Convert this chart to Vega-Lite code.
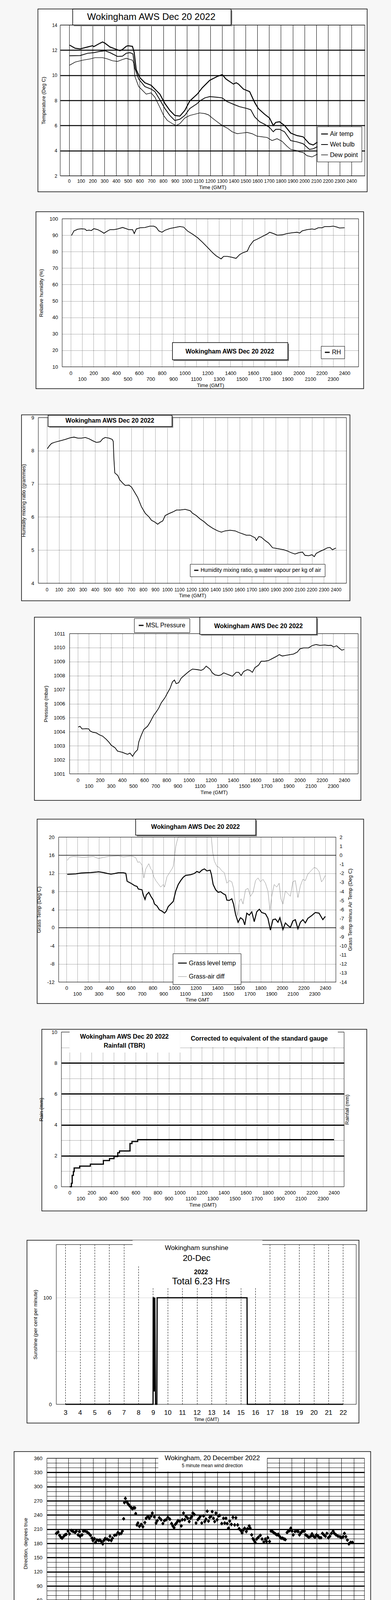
{
"$schema":"https://vega.github.io/schema/vega-lite/v6.json",
"background":"#f7f7f7",
"padding":0,
"spacing":0,
"resolve":{"scale":{"color":"independent","strokeWidth":"independent","shape":"independent"},"legend":{"color":"independent","strokeWidth":"independent","shape":"independent"}},
"config":{
 "font":"Liberation Sans",
 "axis":{"domain":false,"ticks":false,"labelColor":"black","titleColor":"black","titleFontWeight":"normal","labelFontSize":13,"titleFontSize":13,"gridColor":"black","gridOpacity":1,"labelOverlap":false,"labelFlush":false,"labelFont":"Liberation Sans","titleFont":"Liberation Sans"},
 "legend":{"labelColor":"black","labelFont":"Liberation Sans"},
 "concat":{"spacing":0}
},
"datasets":{
"temp":[
{"t":4,"s":"Air temp","v":12.4},{"t":51,"s":"Air temp","v":12.15},{"t":93,"s":"Air temp","v":12.1},{"t":157,"s":"Air temp","v":12.25},{"t":199,"s":"Air temp","v":12.35},{"t":210,"s":"Air temp","v":12.28},{"t":252,"s":"Air temp","v":12.5},{"t":284,"s":"Air temp","v":12.65},{"t":305,"s":"Air temp","v":12.55},{"t":347,"s":"Air temp","v":12.25},{"t":390,"s":"Air temp","v":12.1},{"t":432,"s":"Air temp","v":11.95},{"t":453,"s":"Air temp","v":12.05},{"t":485,"s":"Air temp","v":12.3},{"t":500,"s":"Air temp","v":12.35},{"t":538,"s":"Air temp","v":12.3},{"t":553,"s":"Air temp","v":11.8},{"t":570,"s":"Air temp","v":10.45},{"t":602,"s":"Air temp","v":9.8},{"t":644,"s":"Air temp","v":9.4},{"t":697,"s":"Air temp","v":9.2},{"t":729,"s":"Air temp","v":8.9},{"t":771,"s":"Air temp","v":8.5},{"t":814,"s":"Air temp","v":7.75},{"t":856,"s":"Air temp","v":7.2},{"t":898,"s":"Air temp","v":6.8},{"t":941,"s":"Air temp","v":6.75},{"t":983,"s":"Air temp","v":7.2},{"t":1025,"s":"Air temp","v":7.95},{"t":1089,"s":"Air temp","v":8.5},{"t":1131,"s":"Air temp","v":9.0},{"t":1195,"s":"Air temp","v":9.6},{"t":1258,"s":"Air temp","v":9.9},{"t":1301,"s":"Air temp","v":10.05},{"t":1333,"s":"Air temp","v":9.7},{"t":1396,"s":"Air temp","v":9.3},{"t":1420,"s":"Air temp","v":9.4},{"t":1439,"s":"Air temp","v":9.3},{"t":1481,"s":"Air temp","v":8.9},{"t":1534,"s":"Air temp","v":8.7},{"t":1576,"s":"Air temp","v":7.85},{"t":1608,"s":"Air temp","v":7.35},{"t":1661,"s":"Air temp","v":6.9},{"t":1703,"s":"Air temp","v":6.6},{"t":1735,"s":"Air temp","v":6.0},{"t":1756,"s":"Air temp","v":6.25},{"t":1788,"s":"Air temp","v":6.3},{"t":1831,"s":"Air temp","v":6.0},{"t":1883,"s":"Air temp","v":5.4},{"t":1936,"s":"Air temp","v":5.2},{"t":1989,"s":"Air temp","v":5.1},{"t":2042,"s":"Air temp","v":4.55},{"t":2074,"s":"Air temp","v":4.45},{"t":2106,"s":"Air temp","v":4.65},{"t":2200,"s":"Air temp","v":4.6},{"t":2300,"s":"Air temp","v":4.5},{"t":2356,"s":"Air temp","v":4.4},
{"t":4,"s":"Wet bulb","v":11.55},{"t":93,"s":"Wet bulb","v":11.57},{"t":157,"s":"Wet bulb","v":11.75},{"t":210,"s":"Wet bulb","v":11.8},{"t":263,"s":"Wet bulb","v":11.9},{"t":305,"s":"Wet bulb","v":11.95},{"t":347,"s":"Wet bulb","v":11.8},{"t":411,"s":"Wet bulb","v":11.5},{"t":453,"s":"Wet bulb","v":11.52},{"t":485,"s":"Wet bulb","v":11.75},{"t":517,"s":"Wet bulb","v":11.8},{"t":542,"s":"Wet bulb","v":11.7},{"t":559,"s":"Wet bulb","v":10.55},{"t":591,"s":"Wet bulb","v":9.7},{"t":644,"s":"Wet bulb","v":9.1},{"t":697,"s":"Wet bulb","v":8.9},{"t":729,"s":"Wet bulb","v":8.7},{"t":771,"s":"Wet bulb","v":8.05},{"t":814,"s":"Wet bulb","v":7.35},{"t":856,"s":"Wet bulb","v":6.8},{"t":898,"s":"Wet bulb","v":6.4},{"t":941,"s":"Wet bulb","v":6.5},{"t":983,"s":"Wet bulb","v":6.8},{"t":1025,"s":"Wet bulb","v":7.35},{"t":1089,"s":"Wet bulb","v":7.75},{"t":1110,"s":"Wet bulb","v":7.95},{"t":1153,"s":"Wet bulb","v":8.2},{"t":1195,"s":"Wet bulb","v":8.3},{"t":1258,"s":"Wet bulb","v":8.25},{"t":1301,"s":"Wet bulb","v":8.2},{"t":1343,"s":"Wet bulb","v":7.9},{"t":1407,"s":"Wet bulb","v":7.65},{"t":1449,"s":"Wet bulb","v":7.5},{"t":1513,"s":"Wet bulb","v":7.35},{"t":1544,"s":"Wet bulb","v":7.25},{"t":1576,"s":"Wet bulb","v":6.7},{"t":1619,"s":"Wet bulb","v":6.3},{"t":1661,"s":"Wet bulb","v":6.1},{"t":1703,"s":"Wet bulb","v":5.85},{"t":1735,"s":"Wet bulb","v":5.5},{"t":1756,"s":"Wet bulb","v":5.7},{"t":1788,"s":"Wet bulb","v":5.7},{"t":1831,"s":"Wet bulb","v":5.5},{"t":1883,"s":"Wet bulb","v":4.8},{"t":1936,"s":"Wet bulb","v":4.7},{"t":1989,"s":"Wet bulb","v":4.55},{"t":2042,"s":"Wet bulb","v":4.1},{"t":2074,"s":"Wet bulb","v":4.15},{"t":2106,"s":"Wet bulb","v":4.3},{"t":2200,"s":"Wet bulb","v":4.2},{"t":2300,"s":"Wet bulb","v":4.1},{"t":2356,"s":"Wet bulb","v":4.0},
{"t":4,"s":"Dew point","v":10.8},{"t":51,"s":"Dew point","v":11.05},{"t":114,"s":"Dew point","v":11.2},{"t":178,"s":"Dew point","v":11.3},{"t":220,"s":"Dew point","v":11.4},{"t":284,"s":"Dew point","v":11.4},{"t":326,"s":"Dew point","v":11.3},{"t":369,"s":"Dew point","v":11.15},{"t":411,"s":"Dew point","v":11.1},{"t":453,"s":"Dew point","v":11.25},{"t":485,"s":"Dew point","v":11.35},{"t":538,"s":"Dew point","v":11.2},{"t":549,"s":"Dew point","v":10.95},{"t":559,"s":"Dew point","v":9.9},{"t":591,"s":"Dew point","v":9.1},{"t":623,"s":"Dew point","v":8.8},{"t":655,"s":"Dew point","v":8.5},{"t":697,"s":"Dew point","v":8.6},{"t":729,"s":"Dew point","v":8.25},{"t":771,"s":"Dew point","v":7.45},{"t":803,"s":"Dew point","v":6.8},{"t":835,"s":"Dew point","v":6.4},{"t":877,"s":"Dew point","v":6.15},{"t":909,"s":"Dew point","v":6.0},{"t":941,"s":"Dew point","v":6.15},{"t":983,"s":"Dew point","v":6.6},{"t":1025,"s":"Dew point","v":6.8},{"t":1068,"s":"Dew point","v":6.9},{"t":1110,"s":"Dew point","v":7.0},{"t":1153,"s":"Dew point","v":6.95},{"t":1184,"s":"Dew point","v":6.85},{"t":1216,"s":"Dew point","v":6.6},{"t":1258,"s":"Dew point","v":6.3},{"t":1301,"s":"Dew point","v":6.0},{"t":1343,"s":"Dew point","v":5.8},{"t":1386,"s":"Dew point","v":5.5},{"t":1428,"s":"Dew point","v":5.35},{"t":1470,"s":"Dew point","v":5.4},{"t":1513,"s":"Dew point","v":5.45},{"t":1555,"s":"Dew point","v":5.35},{"t":1597,"s":"Dew point","v":5.15},{"t":1640,"s":"Dew point","v":5.1},{"t":1682,"s":"Dew point","v":5.05},{"t":1725,"s":"Dew point","v":4.8},{"t":1767,"s":"Dew point","v":4.95},{"t":1809,"s":"Dew point","v":4.75},{"t":1852,"s":"Dew point","v":4.35},{"t":1883,"s":"Dew point","v":4.1},{"t":1936,"s":"Dew point","v":4.0},{"t":1958,"s":"Dew point","v":3.9},{"t":1989,"s":"Dew point","v":3.85},{"t":2021,"s":"Dew point","v":3.6},{"t":2064,"s":"Dew point","v":3.5},{"t":2106,"s":"Dew point","v":3.7},{"t":2200,"s":"Dew point","v":3.6},{"t":2300,"s":"Dew point","v":3.5},{"t":2356,"s":"Dew point","v":3.4}
],
"rh":[{"t":7,"v":89.8},{"t":28,"v":92.6},{"t":61,"v":93.6},{"t":94,"v":93.9},{"t":127,"v":93.7},{"t":138,"v":92.8},{"t":160,"v":93.1},{"t":181,"v":92.8},{"t":203,"v":94.0},{"t":236,"v":93.4},{"t":269,"v":92.2},{"t":291,"v":91.2},{"t":323,"v":92.6},{"t":345,"v":93.4},{"t":378,"v":93.4},{"t":411,"v":93.8},{"t":455,"v":94.7},{"t":476,"v":94.2},{"t":509,"v":93.4},{"t":542,"v":93.4},{"t":557,"v":91.0},{"t":575,"v":93.8},{"t":608,"v":94.5},{"t":651,"v":94.7},{"t":695,"v":95.5},{"t":728,"v":95.5},{"t":750,"v":94.7},{"t":772,"v":92.6},{"t":800,"v":91.8},{"t":826,"v":93.0},{"t":870,"v":94.1},{"t":914,"v":94.7},{"t":957,"v":95.3},{"t":990,"v":94.9},{"t":1023,"v":92.6},{"t":1067,"v":90.7},{"t":1110,"v":88.6},{"t":1154,"v":85.8},{"t":1198,"v":82.7},{"t":1242,"v":79.5},{"t":1274,"v":77.5},{"t":1318,"v":75.6},{"t":1340,"v":77.1},{"t":1373,"v":77.1},{"t":1406,"v":76.7},{"t":1449,"v":75.9},{"t":1482,"v":78.3},{"t":1515,"v":79.5},{"t":1548,"v":80.3},{"t":1569,"v":83.5},{"t":1602,"v":86.6},{"t":1635,"v":87.6},{"t":1679,"v":89.2},{"t":1722,"v":90.7},{"t":1744,"v":91.8},{"t":1777,"v":91.0},{"t":1810,"v":90.0},{"t":1853,"v":90.2},{"t":1897,"v":91.0},{"t":1941,"v":91.5},{"t":1985,"v":91.8},{"t":2007,"v":91.3},{"t":2028,"v":92.6},{"t":2072,"v":93.4},{"t":2116,"v":93.8},{"t":2138,"v":93.5},{"t":2170,"v":94.5},{"t":2203,"v":94.5},{"t":2225,"v":95.2},{"t":2269,"v":95.2},{"t":2302,"v":95.5},{"t":2334,"v":94.9},{"t":2356,"v":94.4},{"t":2400,"v":94.5}],
"mix":[{"t":4,"v":8.06},{"t":19,"v":8.14},{"t":39,"v":8.22},{"t":70,"v":8.26},{"t":112,"v":8.3},{"t":153,"v":8.34},{"t":195,"v":8.39},{"t":226,"v":8.41},{"t":257,"v":8.38},{"t":288,"v":8.38},{"t":319,"v":8.4},{"t":350,"v":8.36},{"t":381,"v":8.3},{"t":412,"v":8.25},{"t":443,"v":8.27},{"t":464,"v":8.36},{"t":485,"v":8.4},{"t":516,"v":8.38},{"t":543,"v":8.34},{"t":551,"v":8.28},{"t":557,"v":7.73},{"t":564,"v":7.33},{"t":589,"v":7.25},{"t":605,"v":7.12},{"t":630,"v":7.02},{"t":651,"v":6.95},{"t":682,"v":6.96},{"t":703,"v":6.9},{"t":723,"v":6.78},{"t":754,"v":6.59},{"t":785,"v":6.31},{"t":817,"v":6.11},{"t":848,"v":6.0},{"t":868,"v":5.9},{"t":899,"v":5.84},{"t":920,"v":5.78},{"t":941,"v":5.84},{"t":962,"v":5.88},{"t":982,"v":6.04},{"t":1013,"v":6.1},{"t":1045,"v":6.15},{"t":1076,"v":6.21},{"t":1107,"v":6.21},{"t":1148,"v":6.23},{"t":1190,"v":6.19},{"t":1210,"v":6.11},{"t":1241,"v":6.04},{"t":1272,"v":5.94},{"t":1304,"v":5.86},{"t":1335,"v":5.76},{"t":1376,"v":5.66},{"t":1418,"v":5.58},{"t":1449,"v":5.54},{"t":1480,"v":5.58},{"t":1521,"v":5.6},{"t":1563,"v":5.58},{"t":1594,"v":5.53},{"t":1625,"v":5.49},{"t":1656,"v":5.45},{"t":1687,"v":5.45},{"t":1708,"v":5.41},{"t":1729,"v":5.37},{"t":1739,"v":5.29},{"t":1760,"v":5.41},{"t":1780,"v":5.39},{"t":1811,"v":5.29},{"t":1842,"v":5.21},{"t":1874,"v":5.07},{"t":1905,"v":5.05},{"t":1936,"v":5.03},{"t":1967,"v":5.01},{"t":1998,"v":4.97},{"t":2029,"v":4.92},{"t":2060,"v":4.88},{"t":2091,"v":4.92},{"t":2122,"v":4.94},{"t":2143,"v":4.84},{"t":2174,"v":4.83},{"t":2201,"v":4.86},{"t":2220,"v":4.8},{"t":2236,"v":4.9},{"t":2267,"v":4.96},{"t":2298,"v":5.01},{"t":2330,"v":5.07},{"t":2350,"v":5.08},{"t":2371,"v":5.01},{"t":2392,"v":5.05},{"t":2400,"v":5.06}],
"pres":[{"t":4,"v":1004.34},{"t":20,"v":1004.39},{"t":38,"v":1004.2},{"t":76,"v":1004.22},{"t":99,"v":1004.2},{"t":110,"v":1004.06},{"t":133,"v":1003.97},{"t":166,"v":1003.92},{"t":200,"v":1003.76},{"t":223,"v":1003.69},{"t":256,"v":1003.46},{"t":283,"v":1003.23},{"t":301,"v":1003.04},{"t":335,"v":1002.86},{"t":358,"v":1002.62},{"t":380,"v":1002.58},{"t":403,"v":1002.53},{"t":425,"v":1002.46},{"t":448,"v":1002.39},{"t":470,"v":1002.48},{"t":493,"v":1002.25},{"t":515,"v":1002.53},{"t":538,"v":1002.72},{"t":549,"v":1003.27},{"t":571,"v":1003.74},{"t":594,"v":1004.16},{"t":628,"v":1004.39},{"t":650,"v":1004.67},{"t":684,"v":1005.18},{"t":706,"v":1005.41},{"t":729,"v":1005.69},{"t":751,"v":1006.06},{"t":785,"v":1006.43},{"t":807,"v":1006.76},{"t":830,"v":1007.08},{"t":852,"v":1007.55},{"t":870,"v":1007.69},{"t":886,"v":1007.43},{"t":909,"v":1007.5},{"t":931,"v":1007.82},{"t":965,"v":1008.06},{"t":999,"v":1008.29},{"t":1032,"v":1008.47},{"t":1077,"v":1008.43},{"t":1111,"v":1008.38},{"t":1134,"v":1008.47},{"t":1156,"v":1008.68},{"t":1190,"v":1008.47},{"t":1212,"v":1008.2},{"t":1235,"v":1008.06},{"t":1269,"v":1008.01},{"t":1291,"v":1008.06},{"t":1314,"v":1008.2},{"t":1347,"v":1008.1},{"t":1370,"v":1008.03},{"t":1392,"v":1007.96},{"t":1426,"v":1008.24},{"t":1449,"v":1008.24},{"t":1471,"v":1008.01},{"t":1493,"v":1008.29},{"t":1527,"v":1008.43},{"t":1550,"v":1008.38},{"t":1572,"v":1008.24},{"t":1595,"v":1008.57},{"t":1628,"v":1008.75},{"t":1651,"v":1009.03},{"t":1685,"v":1009.03},{"t":1718,"v":1009.08},{"t":1752,"v":1009.22},{"t":1786,"v":1009.36},{"t":1815,"v":1009.5},{"t":1842,"v":1009.4},{"t":1876,"v":1009.45},{"t":1910,"v":1009.5},{"t":1943,"v":1009.54},{"t":1977,"v":1009.68},{"t":2000,"v":1009.91},{"t":2033,"v":1009.98},{"t":2078,"v":1009.98},{"t":2112,"v":1010.15},{"t":2146,"v":1010.22},{"t":2180,"v":1010.16},{"t":2224,"v":1010.19},{"t":2258,"v":1010.15},{"t":2281,"v":1010.17},{"t":2303,"v":1010.05},{"t":2332,"v":1010.13},{"t":2354,"v":1009.96},{"t":2377,"v":1009.82},{"t":2400,"v":1009.87}],
"grass":[{"t":7,"v":11.78},{"t":42,"v":11.83},{"t":88,"v":11.89},{"t":134,"v":12.06},{"t":180,"v":12.12},{"t":227,"v":12.18},{"t":273,"v":12.27},{"t":296,"v":12.35},{"t":342,"v":12.18},{"t":377,"v":11.98},{"t":412,"v":11.83},{"t":446,"v":11.95},{"t":481,"v":12.12},{"t":527,"v":12.12},{"t":550,"v":12.0},{"t":562,"v":10.25},{"t":597,"v":9.82},{"t":631,"v":9.3},{"t":654,"v":9.1},{"t":666,"v":8.53},{"t":700,"v":8.38},{"t":712,"v":7.23},{"t":728,"v":6.23},{"t":740,"v":7.23},{"t":763,"v":7.81},{"t":782,"v":6.95},{"t":805,"v":6.08},{"t":816,"v":5.22},{"t":839,"v":4.79},{"t":862,"v":3.93},{"t":886,"v":3.64},{"t":909,"v":3.21},{"t":925,"v":3.64},{"t":943,"v":4.65},{"t":966,"v":5.22},{"t":990,"v":5.8},{"t":1013,"v":8.1},{"t":1036,"v":9.53},{"t":1059,"v":10.4},{"t":1082,"v":11.12},{"t":1105,"v":11.55},{"t":1151,"v":11.69},{"t":1186,"v":11.98},{"t":1209,"v":12.41},{"t":1232,"v":12.18},{"t":1255,"v":12.7},{"t":1279,"v":12.98},{"t":1302,"v":12.55},{"t":1332,"v":12.7},{"t":1343,"v":11.83},{"t":1360,"v":9.53},{"t":1383,"v":8.38},{"t":1406,"v":7.81},{"t":1429,"v":7.95},{"t":1452,"v":7.52},{"t":1475,"v":7.23},{"t":1487,"v":6.08},{"t":1510,"v":6.03},{"t":1533,"v":6.37},{"t":1549,"v":5.22},{"t":1568,"v":2.92},{"t":1591,"v":1.2},{"t":1614,"v":2.2},{"t":1637,"v":1.77},{"t":1653,"v":0.62},{"t":1672,"v":3.21},{"t":1695,"v":2.78},{"t":1718,"v":3.5},{"t":1741,"v":1.34},{"t":1764,"v":3.5},{"t":1788,"v":4.07},{"t":1810,"v":3.35},{"t":1845,"v":3.07},{"t":1868,"v":2.06},{"t":1891,"v":-0.53},{"t":1914,"v":1.77},{"t":1938,"v":1.91},{"t":1961,"v":1.2},{"t":1979,"v":2.2},{"t":2007,"v":-0.39},{"t":2030,"v":1.05},{"t":2053,"v":0.48},{"t":2076,"v":0.05},{"t":2099,"v":1.48},{"t":2122,"v":1.77},{"t":2146,"v":-0.24},{"t":2169,"v":1.2},{"t":2192,"v":1.77},{"t":2215,"v":1.05},{"t":2238,"v":2.06},{"t":2272,"v":2.63},{"t":2307,"v":3.35},{"t":2342,"v":3.21},{"t":2377,"v":1.77},{"t":2400,"v":2.49}],
"gdiff":[{"t":7,"v":-0.57},{"t":30,"v":-0.21},{"t":65,"v":-0.14},{"t":111,"v":-0.19},{"t":157,"v":-0.24},{"t":203,"v":-0.19},{"t":250,"v":-0.14},{"t":296,"v":-0.36},{"t":342,"v":-0.24},{"t":388,"v":-0.14},{"t":435,"v":-0.1},{"t":481,"v":-0.07},{"t":527,"v":-0.19},{"t":562,"v":-0.14},{"t":597,"v":-0.1},{"t":620,"v":-0.14},{"t":643,"v":-0.29},{"t":661,"v":-0.79},{"t":677,"v":-0.72},{"t":700,"v":-1.08},{"t":717,"v":-2.51},{"t":735,"v":-1.51},{"t":763,"v":-0.93},{"t":782,"v":-1.51},{"t":793,"v":-1.65},{"t":809,"v":-2.37},{"t":828,"v":-2.8},{"t":851,"v":-3.16},{"t":874,"v":-3.52},{"t":897,"v":-3.23},{"t":909,"v":-3.52},{"t":932,"v":-2.37},{"t":955,"v":-1.94},{"t":978,"v":-1.51},{"t":990,"v":-1.22},{"t":1001,"v":-0.21},{"t":1013,"v":0.94},{"t":1024,"v":1.51},{"t":1036,"v":2.09},{"t":1100,"v":3},{"t":1200,"v":3},{"t":1300,"v":3},{"t":1343,"v":2.0},{"t":1355,"v":0.36},{"t":1371,"v":-0.65},{"t":1394,"v":-1.22},{"t":1417,"v":-1.36},{"t":1440,"v":-1.72},{"t":1464,"v":-1.94},{"t":1487,"v":-3.09},{"t":1510,"v":-2.8},{"t":1533,"v":-2.94},{"t":1549,"v":-3.66},{"t":1568,"v":-5.68},{"t":1586,"v":-6.68},{"t":1602,"v":-5.1},{"t":1619,"v":-4.81},{"t":1637,"v":-5.39},{"t":1660,"v":-3.81},{"t":1683,"v":-3.66},{"t":1706,"v":-4.53},{"t":1730,"v":-4.1},{"t":1753,"v":-2.8},{"t":1776,"v":-2.51},{"t":1799,"v":-2.94},{"t":1822,"v":-2.66},{"t":1845,"v":-3.09},{"t":1868,"v":-3.95},{"t":1887,"v":-6.11},{"t":1903,"v":-4.53},{"t":1926,"v":-3.23},{"t":1949,"v":-3.52},{"t":1972,"v":-3.09},{"t":1988,"v":-4.81},{"t":2007,"v":-5.39},{"t":2030,"v":-3.95},{"t":2053,"v":-4.24},{"t":2076,"v":-4.53},{"t":2099,"v":-2.94},{"t":2122,"v":-2.8},{"t":2146,"v":-4.67},{"t":2169,"v":-3.38},{"t":2192,"v":-2.66},{"t":2215,"v":-2.8},{"t":2238,"v":-2.08},{"t":2261,"v":-1.8},{"t":2296,"v":-1.36},{"t":2319,"v":-1.44},{"t":2342,"v":-1.8},{"t":2365,"v":-2.94},{"t":2382,"v":-2.66},{"t":2400,"v":-2.23}],
"rain":[{"t":0,"v":0},{"t":7,"v":0},{"t":16,"v":0.22},{"t":23,"v":0.73},{"t":34,"v":0.98},{"t":41,"v":1.21},{"t":91,"v":1.33},{"t":188,"v":1.46},{"t":306,"v":1.69},{"t":362,"v":1.82},{"t":403,"v":1.95},{"t":437,"v":2.2},{"t":453,"v":2.31},{"t":548,"v":2.79},{"t":566,"v":2.92},{"t":618,"v":3.04},{"t":2400,"v":3.04}],
"sun":[{"h":3,"v":0},{"h":9.0,"v":0},{"h":9.01,"v":100},{"h":9.06,"v":100},{"h":9.08,"v":12},{"h":9.12,"v":100},{"h":9.17,"v":0},{"h":9.26,"v":0},{"h":9.28,"v":100},{"h":15.43,"v":100},{"h":15.45,"v":0},{"h":22,"v":0}],
"wdir":[{"h":0.04,"d":201},{"h":0.18,"d":204},{"h":0.3,"d":197},{"h":0.4,"d":193},{"h":0.5,"d":191},{"h":0.64,"d":195},{"h":0.74,"d":198},{"h":0.84,"d":199},{"h":0.98,"d":206},{"h":1.1,"d":200},{"h":1.25,"d":207},{"h":1.39,"d":205},{"h":1.55,"d":203},{"h":1.65,"d":206},{"h":1.79,"d":198},{"h":1.89,"d":205},{"h":1.95,"d":195},{"h":2.11,"d":198},{"h":2.21,"d":206},{"h":2.35,"d":206},{"h":2.51,"d":204},{"h":2.65,"d":201},{"h":2.79,"d":197},{"h":2.91,"d":191},{"h":2.99,"d":186},{"h":3.11,"d":190},{"h":3.19,"d":182},{"h":3.31,"d":187},{"h":3.45,"d":186},{"h":3.55,"d":187},{"h":3.66,"d":184},{"h":3.78,"d":179},{"h":3.86,"d":186},{"h":3.96,"d":190},{"h":4.12,"d":189},{"h":4.26,"d":187},{"h":4.36,"d":195},{"h":4.46,"d":186},{"h":4.56,"d":191},{"h":4.72,"d":197},{"h":4.86,"d":198},{"h":5.0,"d":203},{"h":5.12,"d":200},{"h":5.26,"d":201},{"h":5.36,"d":206},{"h":5.46,"d":232},{"h":5.52,"d":266},{"h":5.6,"d":275},{"h":5.72,"d":268},{"h":5.8,"d":264},{"h":5.92,"d":260},{"h":6.06,"d":256},{"h":6.16,"d":253},{"h":6.26,"d":255},{"h":6.36,"d":255},{"h":6.43,"d":243},{"h":6.53,"d":219},{"h":6.61,"d":223},{"h":6.73,"d":216},{"h":6.87,"d":220},{"h":7.01,"d":215},{"h":7.17,"d":224},{"h":7.27,"d":233},{"h":7.41,"d":237},{"h":7.53,"d":233},{"h":7.67,"d":238},{"h":7.77,"d":244},{"h":7.93,"d":236},{"h":8.07,"d":223},{"h":8.17,"d":228},{"h":8.33,"d":234},{"h":8.48,"d":230},{"h":8.62,"d":222},{"h":8.74,"d":228},{"h":8.88,"d":230},{"h":9.02,"d":235},{"h":9.18,"d":231},{"h":9.32,"d":222},{"h":9.42,"d":217},{"h":9.52,"d":213},{"h":9.62,"d":220},{"h":9.74,"d":224},{"h":9.84,"d":228},{"h":9.98,"d":227},{"h":10.1,"d":217},{"h":10.18,"d":230},{"h":10.28,"d":244},{"h":10.38,"d":230},{"h":10.48,"d":237},{"h":10.62,"d":233},{"h":10.74,"d":226},{"h":10.85,"d":233},{"h":10.95,"d":237},{"h":11.03,"d":244},{"h":11.15,"d":241},{"h":11.29,"d":223},{"h":11.43,"d":230},{"h":11.53,"d":233},{"h":11.63,"d":237},{"h":11.75,"d":223},{"h":11.89,"d":238},{"h":11.99,"d":226},{"h":12.09,"d":231},{"h":12.19,"d":248},{"h":12.29,"d":227},{"h":12.39,"d":235},{"h":12.49,"d":237},{"h":12.59,"d":247},{"h":12.69,"d":233},{"h":12.79,"d":226},{"h":12.89,"d":244},{"h":12.99,"d":230},{"h":13.09,"d":238},{"h":13.2,"d":239},{"h":13.36,"d":222},{"h":13.5,"d":233},{"h":13.6,"d":223},{"h":13.7,"d":233},{"h":13.8,"d":222},{"h":13.9,"d":212},{"h":14.0,"d":227},{"h":14.14,"d":220},{"h":14.26,"d":235},{"h":14.4,"d":219},{"h":14.5,"d":234},{"h":14.64,"d":219},{"h":14.76,"d":211},{"h":14.9,"d":207},{"h":15.0,"d":202},{"h":15.1,"d":208},{"h":15.2,"d":212},{"h":15.34,"d":205},{"h":15.44,"d":211},{"h":15.57,"d":217},{"h":15.65,"d":212},{"h":15.77,"d":198},{"h":15.87,"d":190},{"h":15.97,"d":186},{"h":16.05,"d":182},{"h":16.17,"d":189},{"h":16.31,"d":193},{"h":16.47,"d":197},{"h":16.61,"d":189},{"h":16.75,"d":183},{"h":16.87,"d":189},{"h":16.97,"d":184},{"h":17.07,"d":192},{"h":17.21,"d":184},{"h":17.33,"d":206},{"h":17.45,"d":205},{"h":17.57,"d":202},{"h":17.69,"d":200},{"h":17.81,"d":198},{"h":17.91,"d":199},{"h":18.01,"d":195},{"h":18.14,"d":191},{"h":18.26,"d":191},{"h":18.38,"d":189},{"h":18.48,"d":188},{"h":18.62,"d":203},{"h":18.72,"d":206},{"h":18.82,"d":207},{"h":18.92,"d":212},{"h":19.02,"d":206},{"h":19.12,"d":198},{"h":19.26,"d":205},{"h":19.42,"d":206},{"h":19.52,"d":205},{"h":19.62,"d":198},{"h":19.72,"d":202},{"h":19.82,"d":205},{"h":19.92,"d":206},{"h":20.02,"d":206},{"h":20.12,"d":198},{"h":20.26,"d":195},{"h":20.38,"d":193},{"h":20.53,"d":195},{"h":20.63,"d":200},{"h":20.75,"d":195},{"h":20.87,"d":193},{"h":20.99,"d":198},{"h":21.13,"d":195},{"h":21.23,"d":192},{"h":21.35,"d":192},{"h":21.47,"d":201},{"h":21.59,"d":198},{"h":21.71,"d":195},{"h":21.83,"d":201},{"h":21.95,"d":192},{"h":22.07,"d":195},{"h":22.19,"d":201},{"h":22.33,"d":206},{"h":22.43,"d":201},{"h":22.57,"d":198},{"h":22.73,"d":195},{"h":22.88,"d":194},{"h":23.0,"d":192},{"h":23.14,"d":194},{"h":23.24,"d":201},{"h":23.36,"d":194},{"h":23.48,"d":187},{"h":23.6,"d":179},{"h":23.74,"d":182},{"h":23.88,"d":182}],
"wmean":[{"h":0.04,"v":12.5},{"h":0.18,"v":13.2},{"h":0.33,"v":11.9},{"h":0.53,"v":12.3},{"h":0.69,"v":12.5},{"h":0.82,"v":11.6},{"h":0.96,"v":12.8},{"h":1.12,"v":13.2},{"h":1.27,"v":15.0},{"h":1.41,"v":15.3},{"h":1.55,"v":14.6},{"h":1.66,"v":13.7},{"h":1.8,"v":12.3},{"h":1.96,"v":11.2},{"h":2.09,"v":11.6},{"h":2.25,"v":12.5},{"h":2.41,"v":13.0},{"h":2.52,"v":13.7},{"h":2.64,"v":11.9},{"h":2.72,"v":10.1},{"h":2.88,"v":11.0},{"h":3.03,"v":12.3},{"h":3.17,"v":11.2},{"h":3.31,"v":12.5},{"h":3.46,"v":11.0},{"h":3.62,"v":11.9},{"h":3.76,"v":11.2},{"h":3.91,"v":11.9},{"h":4.09,"v":11.4},{"h":4.25,"v":11.6},{"h":4.44,"v":10.7},{"h":4.6,"v":11.9},{"h":4.74,"v":13.2},{"h":4.87,"v":13.9},{"h":5.03,"v":13.5},{"h":5.17,"v":13.7},{"h":5.32,"v":11.0},{"h":5.48,"v":11.2},{"h":5.62,"v":10.7},{"h":5.81,"v":10.1},{"h":5.97,"v":9.4},{"h":6.11,"v":7.8},{"h":6.24,"v":6.2},{"h":6.4,"v":5.8},{"h":6.6,"v":4.4},{"h":6.79,"v":3.9},{"h":6.99,"v":4.2},{"h":7.18,"v":5.1},{"h":7.38,"v":7.1},{"h":7.61,"v":8.5},{"h":7.77,"v":7.6},{"h":7.97,"v":6.4},{"h":8.16,"v":6.2},{"h":8.36,"v":6.9},{"h":8.51,"v":5.5},{"h":8.71,"v":6.2},{"h":8.91,"v":6.7},{"h":9.1,"v":6.0},{"h":9.28,"v":7.1},{"h":9.47,"v":4.6},{"h":9.67,"v":5.8},{"h":9.86,"v":6.4},{"h":10.06,"v":7.1},{"h":10.26,"v":4.8},{"h":10.47,"v":6.2},{"h":10.67,"v":6.7},{"h":10.86,"v":5.8},{"h":11.06,"v":5.3},{"h":11.25,"v":6.9},{"h":11.45,"v":6.2},{"h":11.65,"v":7.1},{"h":11.84,"v":6.2},{"h":12.04,"v":6.9},{"h":12.23,"v":6.2},{"h":12.43,"v":7.1},{"h":12.62,"v":6.2},{"h":12.82,"v":7.8},{"h":13.02,"v":6.9},{"h":13.21,"v":7.4},{"h":13.41,"v":6.9},{"h":13.6,"v":6.2},{"h":13.8,"v":8.3},{"h":14.0,"v":7.4},{"h":14.13,"v":6.0},{"h":14.27,"v":4.6},{"h":14.43,"v":4.2},{"h":14.62,"v":3.7},{"h":14.82,"v":4.4},{"h":15.01,"v":4.8},{"h":15.21,"v":5.3},{"h":15.4,"v":4.4},{"h":15.6,"v":3.9},{"h":15.83,"v":3.4},{"h":16.09,"v":3.6},{"h":16.28,"v":4.4},{"h":16.48,"v":4.6},{"h":16.68,"v":4.2},{"h":16.87,"v":4.4},{"h":17.07,"v":3.4},{"h":17.26,"v":3.2},{"h":17.46,"v":3.3},{"h":17.66,"v":4.4},{"h":17.85,"v":5.0},{"h":18.05,"v":4.6},{"h":18.24,"v":4.4},{"h":18.44,"v":4.8},{"h":18.63,"v":3.9},{"h":18.83,"v":3.8},{"h":19.02,"v":3.4},{"h":19.22,"v":3.6},{"h":19.42,"v":3.4},{"h":19.61,"v":3.4},{"h":19.81,"v":3.6},{"h":20.0,"v":3.4},{"h":20.2,"v":4.2},{"h":20.4,"v":4.8},{"h":20.69,"v":4.9},{"h":20.99,"v":5.0},{"h":21.28,"v":4.6},{"h":21.48,"v":4.2},{"h":21.67,"v":4.6},{"h":21.96,"v":3.9},{"h":22.16,"v":4.6},{"h":22.36,"v":4.5},{"h":22.65,"v":4.5},{"h":22.85,"v":5.1},{"h":23.08,"v":5.8},{"h":23.27,"v":4.4},{"h":23.47,"v":4.8},{"h":23.72,"v":5.8},{"h":23.98,"v":4.8}],
"wgust":[{"h":0.0,"v":13},{"h":0.1,"v":22},{"h":0.2,"v":16},{"h":0.3,"v":23},{"h":0.4,"v":15},{"h":0.5,"v":21},{"h":0.6,"v":17},{"h":0.7,"v":24},{"h":0.8,"v":14},{"h":0.9,"v":20},{"h":1.0,"v":16},{"h":1.1,"v":25},{"h":1.2,"v":18},{"h":1.3,"v":26},{"h":1.4,"v":17},{"h":1.5,"v":25},{"h":1.6,"v":19},{"h":1.7,"v":22},{"h":1.8,"v":14},{"h":1.9,"v":19},{"h":2.0,"v":13},{"h":2.1,"v":26},{"h":2.2,"v":15},{"h":2.3,"v":25},{"h":2.4,"v":13},{"h":2.5,"v":22},{"h":2.6,"v":12},{"h":2.7,"v":24},{"h":2.8,"v":14},{"h":2.9,"v":20},{"h":3.0,"v":11},{"h":3.1,"v":27},{"h":3.2,"v":13},{"h":3.3,"v":22},{"h":3.4,"v":12},{"h":3.5,"v":27},{"h":3.6,"v":15},{"h":3.7,"v":19},{"h":3.8,"v":10},{"h":3.9,"v":21},{"h":4.0,"v":12},{"h":4.1,"v":23},{"h":4.2,"v":11},{"h":4.3,"v":20},{"h":4.4,"v":13},{"h":4.5,"v":19},{"h":4.6,"v":14},{"h":4.7,"v":26},{"h":4.8,"v":16},{"h":4.9,"v":24},{"h":5.0,"v":15},{"h":5.1,"v":22},{"h":5.2,"v":14},{"h":5.3,"v":25},{"h":5.4,"v":12},{"h":5.5,"v":20},{"h":5.6,"v":13},{"h":5.7,"v":18},{"h":5.8,"v":11},{"h":5.9,"v":14},{"h":6.0,"v":10},{"h":6.1,"v":11},{"h":6.2,"v":8},{"h":6.3,"v":9},{"h":6.4,"v":6},{"h":6.5,"v":7.5},{"h":6.6,"v":5},{"h":6.7,"v":6.5},{"h":6.8,"v":4.5},{"h":6.9,"v":6},{"h":7.0,"v":5},{"h":7.1,"v":8},{"h":7.2,"v":7},{"h":7.3,"v":11},{"h":7.4,"v":9},{"h":7.5,"v":14},{"h":7.6,"v":10},{"h":7.7,"v":12},{"h":7.8,"v":8},{"h":7.9,"v":10},{"h":8.0,"v":7},{"h":8.1,"v":9},{"h":8.2,"v":6},{"h":8.3,"v":11},{"h":8.4,"v":7},{"h":8.5,"v":10},{"h":8.6,"v":6},{"h":8.7,"v":11},{"h":8.8,"v":7},{"h":8.9,"v":10},{"h":9.0,"v":8},{"h":9.1,"v":9},{"h":9.2,"v":6},{"h":9.3,"v":12},{"h":9.4,"v":5},{"h":9.5,"v":9},{"h":9.6,"v":6},{"h":9.7,"v":12},{"h":9.8,"v":7},{"h":9.9,"v":13},{"h":10.0,"v":8},{"h":10.1,"v":10},{"h":10.2,"v":5},{"h":10.3,"v":11},{"h":10.4,"v":7},{"h":10.5,"v":12},{"h":10.6,"v":8},{"h":10.7,"v":10},{"h":10.8,"v":6},{"h":10.9,"v":11},{"h":11.0,"v":6},{"h":11.1,"v":12},{"h":11.2,"v":8},{"h":11.3,"v":10},{"h":11.4,"v":7},{"h":11.5,"v":12},{"h":11.6,"v":8},{"h":11.7,"v":11},{"h":11.8,"v":7},{"h":11.9,"v":12},{"h":12.0,"v":8},{"h":12.1,"v":11},{"h":12.2,"v":7},{"h":12.3,"v":12},{"h":12.4,"v":8},{"h":12.5,"v":10},{"h":12.6,"v":7},{"h":12.7,"v":13},{"h":12.8,"v":9},{"h":12.9,"v":14},{"h":13.0,"v":8},{"h":13.1,"v":12},{"h":13.2,"v":9},{"h":13.3,"v":14},{"h":13.4,"v":8},{"h":13.5,"v":11},{"h":13.6,"v":10},{"h":13.7,"v":15},{"h":13.8,"v":9},{"h":13.9,"v":13},{"h":14.0,"v":8},{"h":14.1,"v":10},{"h":14.2,"v":5},{"h":14.3,"v":7},{"h":14.4,"v":4},{"h":14.5,"v":6.5},{"h":14.6,"v":4.5},{"h":14.7,"v":7},{"h":14.8,"v":5},{"h":14.9,"v":8},{"h":15.0,"v":5.5},{"h":15.1,"v":7},{"h":15.2,"v":5},{"h":15.3,"v":6},{"h":15.4,"v":4.5},{"h":15.5,"v":5.5},{"h":15.6,"v":4},{"h":15.7,"v":6},{"h":15.8,"v":3.8},{"h":15.9,"v":6.5},{"h":16.0,"v":4},{"h":16.1,"v":5.5},{"h":16.2,"v":4.5},{"h":16.3,"v":7},{"h":16.4,"v":5},{"h":16.5,"v":6},{"h":16.6,"v":4.5},{"h":16.7,"v":5.5},{"h":16.8,"v":4},{"h":16.9,"v":5},{"h":17.0,"v":3.5},{"h":17.1,"v":4.5},{"h":17.2,"v":3.5},{"h":17.3,"v":5},{"h":17.4,"v":4},{"h":17.5,"v":6.5},{"h":17.6,"v":5},{"h":17.7,"v":7},{"h":17.8,"v":5.5},{"h":17.9,"v":6.5},{"h":18.0,"v":5},{"h":18.1,"v":6},{"h":18.2,"v":4.5},{"h":18.3,"v":6.5},{"h":18.4,"v":4.5},{"h":18.5,"v":6},{"h":18.6,"v":4},{"h":18.7,"v":5.5},{"h":18.8,"v":4},{"h":18.9,"v":6},{"h":19.0,"v":3.8},{"h":19.1,"v":5.5},{"h":19.2,"v":4},{"h":19.3,"v":6},{"h":19.4,"v":4},{"h":19.5,"v":5},{"h":19.6,"v":4},{"h":19.7,"v":5.5},{"h":19.8,"v":3.8},{"h":19.9,"v":5},{"h":20.0,"v":4},{"h":20.1,"v":6},{"h":20.2,"v":5},{"h":20.3,"v":7},{"h":20.4,"v":5.5},{"h":20.5,"v":7.5},{"h":20.6,"v":5.5},{"h":20.7,"v":7},{"h":20.8,"v":6},{"h":20.9,"v":7.5},{"h":21.0,"v":5.5},{"h":21.1,"v":7},{"h":21.2,"v":5},{"h":21.3,"v":6.5},{"h":21.4,"v":5},{"h":21.5,"v":7},{"h":21.6,"v":5.5},{"h":21.7,"v":6.5},{"h":21.8,"v":5},{"h":21.9,"v":6.5},{"h":22.0,"v":4.5},{"h":22.1,"v":6.5},{"h":22.2,"v":5},{"h":22.3,"v":7},{"h":22.4,"v":5.5},{"h":22.5,"v":6.5},{"h":22.6,"v":5.5},{"h":22.7,"v":9},{"h":22.8,"v":6},{"h":22.9,"v":8},{"h":23.0,"v":6},{"h":23.1,"v":7.5},{"h":23.2,"v":5.5},{"h":23.3,"v":9},{"h":23.4,"v":6},{"h":23.5,"v":8},{"h":23.6,"v":5.5},{"h":23.7,"v":8.5},{"h":23.8,"v":5},{"h":23.9,"v":7.5},{"h":24.0,"v":5}],
"wlow":[{"h":6.8,"v":39.5},{"h":6.85,"v":38},{"h":6.88,"v":37.5},{"h":6.92,"v":39},{"h":6.95,"v":40},{"h":7.0,"v":39.3},{"h":14.4,"v":39.5},{"h":14.42,"v":38.5},{"h":14.45,"v":37},{"h":14.5,"v":39.8},{"h":14.55,"v":38},{"h":14.58,"v":36.5},{"h":14.62,"v":37.5},{"h":14.65,"v":36},{"h":15.42,"v":38},{"h":15.45,"v":37},{"h":15.5,"v":36.5},{"h":15.55,"v":39},{"h":15.6,"v":40},{"h":15.65,"v":38.5},{"h":15.7,"v":37.5},{"h":15.75,"v":35},{"h":15.78,"v":34.5},{"h":15.82,"v":35},{"h":15.85,"v":37},{"h":15.9,"v":38.5},{"h":15.95,"v":39.5},{"h":15.98,"v":36},{"h":16.58,"v":39.5},{"h":16.62,"v":38.5},{"h":16.67,"v":37},{"h":16.7,"v":35.5},{"h":16.75,"v":36.5},{"h":16.8,"v":39.5},{"h":16.85,"v":38},{"h":16.9,"v":37},{"h":16.95,"v":36},{"h":17.0,"v":34},{"h":17.05,"v":33},{"h":17.1,"v":32},{"h":17.15,"v":31},{"h":17.2,"v":30.5},{"h":17.25,"v":30.3},{"h":17.3,"v":31},{"h":17.35,"v":32},{"h":17.4,"v":33},{"h":17.45,"v":35},{"h":17.5,"v":36.5},{"h":17.55,"v":37.5},{"h":17.6,"v":38.8},{"h":17.62,"v":31.5},{"h":18.45,"v":38.8},{"h":18.5,"v":38},{"h":18.55,"v":37.5},{"h":18.6,"v":38.2},{"h":18.65,"v":37},{"h":18.7,"v":38.5},{"h":18.75,"v":36},{"h":18.8,"v":35},{"h":18.85,"v":33.5},{"h":18.9,"v":34.5},{"h":18.95,"v":32},{"h":19.0,"v":33.5},{"h":19.05,"v":35.5},{"h":19.1,"v":37.5},{"h":19.15,"v":39.8},{"h":19.2,"v":39},{"h":19.25,"v":37},{"h":19.3,"v":36},{"h":19.4,"v":35},{"h":19.45,"v":33.5},{"h":19.5,"v":32.5},{"h":19.55,"v":34},{"h":19.6,"v":36},{"h":19.65,"v":37.5},{"h":19.7,"v":38},{"h":19.75,"v":36.5},{"h":19.8,"v":35},{"h":19.85,"v":36.8},{"h":19.9,"v":38},{"h":19.95,"v":37},{"h":20.0,"v":35.5},{"h":20.05,"v":34.5},{"h":20.1,"v":36},{"h":20.15,"v":38},{"h":20.2,"v":39},{"h":21.95,"v":39.5},{"h":21.97,"v":38.5},{"h":22.0,"v":39.2}]
},
"vconcat":[
{"width":1,"height":20.25,"data":{"values":[]},"mark":"point","view":{"stroke":null,"fill":null}},
{"hconcat":[
 {"width":96,"height":1,"data":{"values":[]},"mark":"point","view":{"stroke":null,"fill":null}},
 {"width":842,"height":468,"view":{"fill":"white","stroke":"black","strokeWidth":1.5},
  "resolve":{"axis":{"x":"independent"}},
  "layer":[
   {"data":{"name":"temp"},"mark":{"type":"line","color":"black"},
    "encoding":{
     "x":{"field":"t","type":"quantitative","scale":{"domain":[-76,2513],"range":[57,836],"nice":false,"zero":false},
      "axis":{"orient":"bottom","values":[0,100,200,300,400,500,600,700,800,900,1000,1100,1200,1300,1400,1500,1600,1700,1800,1900,2000,2100,2200,2300,2400],"format":"d","grid":false,"offset":-41,"labelPadding":8,"labelFontSize":12,"title":"Time (GMT)","titlePadding":4}},
     "y":{"field":"v","type":"quantitative","scale":{"domain":[2,14],"range":[427,41],"nice":false,"zero":false},
      "axis":{"values":[2,3,4,5,6,7,8,9,10,11,12,13,14],"grid":true,"gridWidth":{"condition":{"test":"datum.value == 2 || datum.value == 14","value":1},"value":2.5},"offset":-57,"labelPadding":8,"labelFontSize":12,"title":"Temperature (Deg C)","titlePadding":14}},
     "strokeWidth":{"field":"s","type":"nominal","scale":{"domain":["Air temp","Wet bulb","Dew point"],"range":[2.5,1.4,0.8]},
      "legend":{"title":null,"orient":"none","legendX":714,"legendY":301,"fillColor":"white","strokeColor":"black","padding":9,"labelFontSize":16,"symbolType":"stroke","symbolSize":300,"symbolStrokeColor":"black","rowPadding":9,"labelLimit":200}}}},
   {"data":{"values":[{}]},"mark":{"type":"rect","fillOpacity":0,"stroke":"black","strokeWidth":1},"encoding":{"x":{"datum":-76,"axis":{"orient":"top","values":[0,100,200,300,400,500,600,700,800,900,1000,1100,1200,1300,1400,1500,1600,1700,1800,1900,2000,2100,2200,2300,2400],"grid":true,"gridWidth":1,"labels":false,"title":null}},"x2":{"datum":2513},"y":{"datum":2},"y2":{"datum":14}}},
   {"data":{"values":[{}]},"mark":{"type":"rect","fill":"#808080","stroke":null},"encoding":{"x":{"datum":40,"axis":null},"x2":{"datum":1386},"y":{"datum":13.907},"y2":{"datum":15.177}}},
   {"data":{"values":[{}]},"mark":{"type":"rect","fill":"white","stroke":"black","strokeWidth":1.5},"encoding":{"x":{"datum":30,"axis":null},"x2":{"datum":1376},"y":{"datum":14},"y2":{"datum":15.27}}},
   {"data":{"values":[{}]},"mark":{"type":"text","text":"Wokingham AWS Dec 20 2022","fontSize":24,"align":"center","baseline":"middle"},"encoding":{"x":{"datum":698,"axis":null},"y":{"datum":14.62}}}
  ]}
],"spacing":0,"resolve":{"scale":{"color":"independent","strokeWidth":"independent","shape":"independent"},"legend":{"color":"independent","strokeWidth":"independent","shape":"independent"}}},
{"width":1,"height":48.5,"data":{"values":[]},"mark":"point","view":{"stroke":null,"fill":null}},
{"hconcat":[
 {"width":91,"height":1,"data":{"values":[]},"mark":"point","view":{"stroke":null,"fill":null}},
 {"width":838,"height":453,"view":{"fill":"white","stroke":"black","strokeWidth":1.5},
  "resolve":{"axis":{"x":"independent"}},
  "layer":[
   {"data":{"name":"rh"},"mark":{"type":"line","strokeWidth":1.8},
    "encoding":{
     "x":{"field":"t","type":"quantitative","scale":{"domain":[-75,2523],"range":[67,825],"nice":false,"zero":false},
      "axis":{"orient":"bottom","values":[0,100,200,300,400,500,600,700,800,900,1000,1100,1200,1300,1400,1500,1600,1700,1800,1900,2000,2100,2200,2300,2400],"format":"d","labelExpr":"datum.value % 200 == 0 ? datum.label : ['', datum.label]","labelLineHeight":15,"grid":false,"offset":-56,"labelPadding":10,"title":"Time (GMT)","titlePadding":3}},
     "y":{"field":"v","type":"quantitative","scale":{"domain":[10,100],"range":[397,18],"nice":false,"zero":false},
      "axis":{"values":[10,15,20,25,30,35,40,45,50,55,60,65,70,75,80,85,90,95,100],"labelExpr":"datum.value % 10 == 0 ? datum.label : ''","grid":true,"gridDash":[1,2],"offset":-67,"labelPadding":11,"title":"Relative humidity (%)","titlePadding":14}},
     "color":{"datum":"RH","type":"nominal","scale":{"domain":["RH"],"range":["black"]},
      "legend":{"title":null,"orient":"none","legendX":729,"legendY":344,"fillColor":"white","strokeColor":"black","padding":8,"labelFontSize":16,"symbolType":"stroke","symbolStrokeWidth":3,"symbolSize":150}}}},
   {"data":{"values":[{}]},"mark":{"type":"rect","fillOpacity":0,"stroke":"black","strokeWidth":1},"encoding":{"x":{"datum":-75,"axis":{"orient":"top","values":[0,100,200,300,400,500,600,700,800,900,1000,1100,1200,1300,1400,1500,1600,1700,1800,1900,2000,2100,2200,2300,2400],"grid":true,"gridDash":[1,2],"labels":false,"title":null}},"x2":{"datum":2523},"y":{"datum":10},"y2":{"datum":100}}},
   {"data":{"values":[{}]},"mark":{"type":"rect","fill":"#808080","stroke":null},"encoding":{"x":{"datum":902,"axis":null},"x2":{"datum":1913},"y":{"datum":13.59},"y2":{"datum":23.99}}},
   {"data":{"values":[{}]},"mark":{"type":"rect","fill":"white","stroke":"black","strokeWidth":1.5},"encoding":{"x":{"datum":892,"axis":null},"x2":{"datum":1903},"y":{"datum":14.3},"y2":{"datum":24.7}}},
   {"data":{"values":[{}]},"mark":{"type":"text","text":"Wokingham AWS Dec 20 2022","fontSize":16,"fontWeight":"bold","align":"center","baseline":"middle"},"encoding":{"x":{"datum":1395,"axis":null},"y":{"datum":19.3}}}
  ]}
],"spacing":0,"resolve":{"scale":{"color":"independent","strokeWidth":"independent","shape":"independent"},"legend":{"color":"independent","strokeWidth":"independent","shape":"independent"}}},
{"width":1,"height":64.5,"data":{"values":[]},"mark":"point","view":{"stroke":null,"fill":null}},
{"hconcat":[
 {"width":54,"height":1,"data":{"values":[]},"mark":"point","view":{"stroke":null,"fill":null}},
 {"width":840,"height":476,"view":{"fill":"white","stroke":"black","strokeWidth":1.5},
  "resolve":{"axis":{"x":"independent"}},
  "layer":[
   {"data":{"name":"mix"},"mark":{"type":"line","strokeWidth":1.8},
    "encoding":{
     "x":{"field":"t","type":"quantitative","scale":{"domain":[-71,2487],"range":[43,831],"nice":false,"zero":false},
      "axis":{"orient":"bottom","values":[0,100,200,300,400,500,600,700,800,900,1000,1100,1200,1300,1400,1500,1600,1700,1800,1900,2000,2100,2200,2300,2400],"format":"d","grid":false,"offset":-45,"labelPadding":11,"labelFontSize":12,"title":"Time (GMT)","titlePadding":3}},
     "y":{"field":"v","type":"quantitative","scale":{"domain":[4,9],"range":[431,7],"nice":false,"zero":false},
      "axis":{"values":[4,5,6,7,8,9],"format":"d","grid":true,"gridDash":[1,2],"offset":-43,"labelPadding":11,"title":"Humidity mixing ratio (grammes)","titlePadding":12}},
     "color":{"datum":"Humidity mixing ratio, g water vapour per kg of air","type":"nominal","scale":{"domain":["Humidity mixing ratio, g water vapour per kg of air"],"range":["black"]},
      "legend":{"title":null,"orient":"none","legendX":431,"legendY":382,"fillColor":"white","strokeColor":"black","padding":9,"labelFontSize":14,"symbolType":"stroke","symbolStrokeWidth":3,"symbolSize":120,"labelLimit":0}}}},
   {"data":{"values":[{}]},"mark":{"type":"rect","fillOpacity":0,"stroke":"black","strokeWidth":1},"encoding":{"x":{"datum":-71,"axis":{"orient":"top","values":[0,100,200,300,400,500,600,700,800,900,1000,1100,1200,1300,1400,1500,1600,1700,1800,1900,2000,2100,2200,2300,2400],"grid":true,"gridDash":[1,2],"labels":false,"title":null}},"x2":{"datum":2487},"y":{"datum":4},"y2":{"datum":9}}},
   {"data":{"values":[{}]},"mark":{"type":"rect","fill":"#808080","stroke":null},"encoding":{"x":{"datum":20,"axis":null},"x2":{"datum":1049},"y":{"datum":8.695},"y2":{"datum":9.035}}},
   {"data":{"values":[{}]},"mark":{"type":"rect","fill":"white","stroke":"black","strokeWidth":1.5},"encoding":{"x":{"datum":10,"axis":null},"x2":{"datum":1039},"y":{"datum":8.73},"y2":{"datum":9.07}}},
   {"data":{"values":[{}]},"mark":{"type":"text","text":"Wokingham AWS Dec 20 2022","fontSize":16,"fontWeight":"bold","align":"center","baseline":"middle"},"encoding":{"x":{"datum":523,"axis":null},"y":{"datum":8.9}}}
  ]}
],"spacing":0,"resolve":{"scale":{"color":"independent","strokeWidth":"independent","shape":"independent"},"legend":{"color":"independent","strokeWidth":"independent","shape":"independent"}}},
{"width":1,"height":38.5,"data":{"values":[]},"mark":"point","view":{"stroke":null,"fill":null}},
{"hconcat":[
 {"width":87,"height":1,"data":{"values":[]},"mark":"point","view":{"stroke":null,"fill":null}},
 {"width":835,"height":469,"view":{"fill":"white","stroke":"black","strokeWidth":1.5},
  "resolve":{"axis":{"x":"independent"}},
  "layer":[
   {"data":{"name":"pres"},"mark":{"type":"line","strokeWidth":1.8},
    "encoding":{
     "x":{"field":"t","type":"quantitative","scale":{"domain":[-74,2525],"range":[90,828],"nice":false,"zero":false},
      "axis":{"orient":"bottom","values":[0,100,200,300,400,500,600,700,800,900,1000,1100,1200,1300,1400,1500,1600,1700,1800,1900,2000,2100,2200,2300,2400],"format":"d","labelExpr":"datum.value % 200 == 0 ? datum.label : ['', datum.label]","labelLineHeight":15,"grid":false,"offset":-68,"labelPadding":10,"title":"Time (GMT)","titlePadding":3}},
     "y":{"field":"v","type":"quantitative","scale":{"domain":[1001,1011],"range":[401,42],"nice":false,"zero":false},
      "axis":{"values":[1001,1002,1003,1004,1005,1006,1007,1008,1009,1010,1011],"format":"d","grid":true,"gridDash":[1,2],"offset":-90,"labelPadding":12,"title":"Pressure (mbar)","titlePadding":13}},
     "color":{"datum":"MSL Pressure","type":"nominal","scale":{"domain":["MSL Pressure"],"range":["black"]},
      "legend":{"title":null,"orient":"none","legendX":255,"legendY":3,"fillColor":"white","strokeColor":"black","padding":10,"labelFontSize":16,"symbolType":"stroke","symbolStrokeWidth":3,"symbolSize":150}}}},
   {"data":{"values":[{}]},"mark":{"type":"rect","fillOpacity":0,"stroke":"black","strokeWidth":1},"encoding":{"x":{"datum":-74,"axis":{"orient":"top","values":[0,100,200,300,400,500,600,700,800,900,1000,1100,1200,1300,1400,1500,1600,1700,1800,1900,2000,2100,2200,2300,2400],"grid":true,"gridDash":[1,2],"labels":false,"title":null}},"x2":{"datum":2525},"y":{"datum":1001},"y2":{"datum":1011}}},
   {"data":{"values":[{}]},"mark":{"type":"rect","fill":"#808080","stroke":null},"encoding":{"x":{"datum":1110,"axis":null},"x2":{"datum":2163},"y":{"datum":1010.86},"y2":{"datum":1012.09}}},
   {"data":{"values":[{}]},"mark":{"type":"rect","fill":"white","stroke":"black","strokeWidth":1.5},"encoding":{"x":{"datum":1099,"axis":null},"x2":{"datum":2152},"y":{"datum":1010.94},"y2":{"datum":1012.17}}},
   {"data":{"values":[{}]},"mark":{"type":"text","text":"Wokingham AWS Dec 20 2022","fontSize":16,"fontWeight":"bold","align":"center","baseline":"middle"},"encoding":{"x":{"datum":1627,"axis":null},"y":{"datum":1011.53}}}
  ]}
],"spacing":0,"resolve":{"scale":{"color":"independent","strokeWidth":"independent","shape":"independent"},"legend":{"color":"independent","strokeWidth":"independent","shape":"independent"}}},
{"width":1,"height":44.5,"data":{"values":[]},"mark":"point","view":{"stroke":null,"fill":null}},
{"hconcat":[
 {"width":92,"height":1,"data":{"values":[]},"mark":"point","view":{"stroke":null,"fill":null}},
 {"width":835,"height":472,"view":{"fill":"white","stroke":"black","strokeWidth":1.5},
  "resolve":{"scale":{"y":"independent"},"axis":{"x":"independent"}},
  "layer":[
   {"data":{"name":"gdiff"},"mark":{"type":"line"},
    "encoding":{
     "x":{"field":"t","type":"quantitative","scale":{"domain":[-73,2498],"range":[55,764],"nice":false,"zero":false},"axis":null},
     "y":{"field":"v","type":"quantitative","scale":{"domain":[-14,2],"range":[417,46],"nice":false,"zero":false,"clamp":true},
      "axis":{"orient":"right","values":[-14,-13,-12,-11,-10,-9,-8,-7,-6,-5,-4,-3,-2,-1,0,1,2],"labelExpr":"replace(datum.label, '−', '-')","grid":false,"offset":-71,"labelPadding":9,"title":"Grass Temp minus Air Temp (Deg C)","titleAngle":270,"titlePadding":16}},
     "color":{"datum":"Grass-air diff","type":"nominal","scale":{"domain":["Grass level temp","Grass-air diff"],"range":["black","#8c8c8c"]},
      "legend":{"title":null,"orient":"none","legendX":347,"legendY":344,"fillColor":"white","strokeColor":"black","padding":12,"labelFontSize":16,"symbolType":"stroke","symbolSize":500,"rowPadding":14,"labelLimit":250}},
     "strokeWidth":{"datum":"Grass-air diff","type":"nominal","scale":{"domain":["Grass level temp","Grass-air diff"],"range":[2.5,1]},
      "legend":{"title":null,"orient":"none","legendX":347,"legendY":344,"fillColor":"white","strokeColor":"black","padding":12,"labelFontSize":16,"symbolType":"stroke","symbolSize":500,"rowPadding":14,"labelLimit":250}}}},
   {"resolve":{"axis":{"x":"independent"}},
    "layer":[
     {"data":{"values":[{}]},"mark":{"type":"rect","fillOpacity":0,"stroke":"black","strokeWidth":1},"encoding":{"x":{"datum":-73,"axis":{"orient":"top","values":[0,100,200,300,400,500,600,700,800,900,1000,1100,1200,1300,1400,1500,1600,1700,1800,1900,2000,2100,2200,2300,2400],"grid":true,"gridDash":[1,2],"labels":false,"title":null}},"x2":{"datum":2498},"y":{"datum":-12,"scale":{"domain":[-12,20],"range":[417,46],"nice":false,"zero":false}},"y2":{"datum":20}}},
     {"data":{"values":[{}]},"mark":{"type":"rule","color":"black","strokeWidth":1.5},"encoding":{"x":{"datum":-73,"axis":null},"x2":{"datum":2498},"y":{"datum":16}}},
     {"data":{"values":[{}]},"mark":{"type":"rule","color":"black","strokeWidth":1.5},"encoding":{"x":{"datum":-73,"axis":null},"x2":{"datum":2498},"y":{"datum":0}}},
     {"data":{"name":"grass"},"mark":{"type":"line"},
      "encoding":{
       "x":{"field":"t","type":"quantitative","scale":{"domain":[-73,2498],"range":[55,764],"nice":false,"zero":false},
        "axis":{"orient":"bottom","values":[0,100,200,300,400,500,600,700,800,900,1000,1100,1200,1300,1400,1500,1600,1700,1800,1900,2000,2100,2200,2300,2400],"format":"d","labelExpr":"datum.value % 200 == 0 ? datum.label : ['', datum.label]","labelLineHeight":15,"grid":false,"offset":-55,"labelPadding":9,"title":"Time GMT","titlePadding":2}},
       "y":{"field":"v","type":"quantitative","scale":{"domain":[-12,20],"range":[417,46],"nice":false,"zero":false},
        "axis":{"orient":"left","values":[-12,-10,-8,-6,-4,-2,0,2,4,6,8,10,12,14,16,18,20],"labelExpr":"replace(datum.label, '−', '-')","grid":true,"gridDash":[1,2],"offset":-55,"labelPadding":11,"title":"Grass Temp (Deg C)","titlePadding":14}},
       "color":{"datum":"Grass level temp","type":"nominal","scale":{"domain":["Grass level temp","Grass-air diff"],"range":["black","#8c8c8c"]},
        "legend":{"title":null,"orient":"none","legendX":347,"legendY":344,"fillColor":"white","strokeColor":"black","padding":12,"labelFontSize":16,"symbolType":"stroke","symbolSize":500,"rowPadding":14,"labelLimit":250}},
       "strokeWidth":{"datum":"Grass level temp","type":"nominal","scale":{"domain":["Grass level temp","Grass-air diff"],"range":[2.5,1]},
        "legend":{"title":null,"orient":"none","legendX":347,"legendY":344,"fillColor":"white","strokeColor":"black","padding":12,"labelFontSize":16,"symbolType":"stroke","symbolSize":500,"rowPadding":14,"labelLimit":250}}}},
     {"data":{"values":[{}]},"mark":{"type":"rect","fill":"#808080","stroke":null},"encoding":{"x":{"datum":652,"axis":null},"x2":{"datum":1766},"y":{"datum":20.17},"y2":{"datum":23.71}}},
     {"data":{"values":[{}]},"mark":{"type":"rect","fill":"white","stroke":"black","strokeWidth":1.5},"encoding":{"x":{"datum":641,"axis":null},"x2":{"datum":1755},"y":{"datum":20.43},"y2":{"datum":23.97}}},
     {"data":{"values":[{}]},"mark":{"type":"text","text":"Wokingham AWS Dec 20 2022","fontSize":16,"fontWeight":"bold","align":"center","baseline":"middle"},"encoding":{"x":{"datum":1196,"axis":null},"y":{"datum":22.24}}}
   ]}
  ]}
],"spacing":0,"resolve":{"scale":{"color":"independent","strokeWidth":"independent","shape":"independent"},"legend":{"color":"independent","strokeWidth":"independent","shape":"independent"}}},
{"width":1,"height":63.5,"data":{"values":[]},"mark":"point","view":{"stroke":null,"fill":null}},
{"hconcat":[
 {"width":98,"height":1,"data":{"values":[]},"mark":"point","view":{"stroke":null,"fill":null}},
 {"width":831,"height":465,"view":{"fill":"white","stroke":"black","strokeWidth":1.5},
  "resolve":{"axis":{"x":"independent","y":"independent"}},
  "layer":[
   {"data":{"name":"rain"},"mark":{"type":"line","color":"black","strokeWidth":3,"interpolate":"step-after"},
    "encoding":{
     "x":{"field":"t","type":"quantitative","scale":{"domain":[-75,2492],"range":[50,773],"nice":false,"zero":false},
      "axis":{"orient":"bottom","values":[0,100,200,300,400,500,600,700,800,900,1000,1100,1200,1300,1400,1500,1600,1700,1800,1900,2000,2100,2200,2300,2400],"format":"d","labelExpr":"datum.value % 200 == 0 ? datum.label : ['', datum.label]","labelLineHeight":15,"grid":false,"offset":-62,"labelPadding":9,"title":"Time (GMT)","titlePadding":3}},
     "y":{"field":"v","type":"quantitative","scale":{"domain":[0,10],"range":[403,7],"nice":false,"zero":false},
      "axis":{"orient":"left","values":[0,1,2,3,4,5,6,7,8,9,10],"labelExpr":"datum.value % 2 == 0 ? datum.label : ''","grid":true,"gridDash":[1,2],"offset":-50,"labelPadding":11,"title":"Rain (mm)","titlePadding":19}}}},
   {"data":{"values":[{}]},"mark":{"type":"rect","fillOpacity":0,"stroke":"black","strokeWidth":1},"encoding":{"x":{"datum":-75,"axis":{"orient":"top","values":[0,100,200,300,400,500,600,700,800,900,1000,1100,1200,1300,1400,1500,1600,1700,1800,1900,2000,2100,2200,2300,2400],"grid":true,"gridDash":[1,2],"labels":false,"title":null}},"x2":{"datum":2492},"y":{"datum":0,"axis":{"orient":"left","values":[2,4,6,8],"labels":false,"grid":true,"gridWidth":3,"title":null}},"y2":{"datum":10}}},
   {"data":{"values":[{}]},"mark":{"type":"rect","fill":"white","stroke":null},"encoding":{"x":{"datum":0,"axis":null},"x2":{"datum":1004},"y":{"datum":8.69,"axis":{"orient":"right","labels":false,"grid":false,"offset":-58,"title":"Rainfall (mm)","titleAngle":270,"titlePadding":14}},"y2":{"datum":10.1}}},
   {"data":{"values":[{}]},"mark":{"type":"rect","fill":"white","stroke":null},"encoding":{"x":{"datum":1004,"axis":null},"x2":{"datum":2435},"y":{"datum":9.02,"axis":null},"y2":{"datum":10.1}}},
   {"data":{"values":[{}]},"mark":{"type":"text","text":"Wokingham AWS Dec 20 2022","fontSize":16,"fontWeight":"bold","align":"center","baseline":"middle"},"encoding":{"x":{"datum":497,"axis":null},"y":{"datum":9.7,"axis":null}}},
   {"data":{"values":[{}]},"mark":{"type":"text","text":"Rainfall (TBR)","fontSize":16,"fontWeight":"bold","align":"center","baseline":"middle"},"encoding":{"x":{"datum":497,"axis":null},"y":{"datum":9.12,"axis":null}}},
   {"data":{"values":[{}]},"mark":{"type":"text","text":"Corrected to equivalent of the standard gauge","fontSize":16,"fontWeight":"bold","align":"center","baseline":"middle"},"encoding":{"x":{"datum":1722,"axis":null},"y":{"datum":9.57,"axis":null}}}
  ]}
],"spacing":0,"resolve":{"scale":{"color":"independent","strokeWidth":"independent","shape":"independent"},"legend":{"color":"independent","strokeWidth":"independent","shape":"independent"}}},
{"width":1,"height":72.5,"data":{"values":[]},"mark":"point","view":{"stroke":null,"fill":null}},
{"hconcat":[
 {"width":68,"height":1,"data":{"values":[]},"mark":"point","view":{"stroke":null,"fill":null}},
 {"width":849,"height":468,"view":{"fill":"white","stroke":"black","strokeWidth":1.5},
  "resolve":{"axis":{"x":"independent"}},
  "layer":[
   {"data":{"name":"sun"},"mark":{"type":"line","color":"black","strokeWidth":3},
    "encoding":{
     "x":{"field":"h","type":"quantitative","scale":{"domain":[2.38,22.9],"range":[75,842],"nice":false,"zero":false},
      "axis":{"orient":"bottom","values":[3,4,5,6,7,8,9,10,11,12,13,14,15,16,17,18,19,20,21,22],"format":"d","grid":false,"offset":-48,"labelPadding":13,"labelFontSize":17,"title":"Time (GMT)","titleFontSize":12,"titlePadding":4}},
     "y":{"field":"v","type":"quantitative","scale":{"domain":[0,150],"range":[420,11],"nice":false,"zero":false},
      "axis":{"values":[0,50,100,150],"labelExpr":"datum.value == 0 || datum.value == 100 ? datum.label : ''","grid":true,"gridColor":"#a0a0a0","gridDash":[1,1],"offset":-75,"labelPadding":12,"title":"Sunshine (per cent per minute)","titlePadding":13}}}},
   {"data":{"values":[{}]},"mark":{"type":"rect","fillOpacity":0,"stroke":"black","strokeWidth":1},"encoding":{"x":{"datum":2.38,"axis":{"orient":"top","values":[3,4,5,6,7,8,9,10,11,12,13,14,15,16,17,18,19,20,21,22],"grid":true,"gridDash":[4,3],"labels":false,"title":null}},"x2":{"datum":22.9},"y":{"datum":0},"y2":{"datum":150}}},
   {"data":{"values":[{}]},"mark":{"type":"rect","fill":"white","stroke":null},"encoding":{"x":{"datum":7.6,"axis":null},"x2":{"datum":16.48},"y":{"datum":129.46},"y2":{"datum":154.03}}},
   {"data":{"values":[{}]},"mark":{"type":"rect","fill":"white","stroke":null},"encoding":{"x":{"datum":8.13,"axis":null},"x2":{"datum":16.43},"y":{"datum":108.92},"y2":{"datum":129.46}}},
   {"data":{"values":[{}]},"mark":{"type":"text","text":"Wokingham sunshine","fontSize":17,"align":"center","baseline":"middle"},"encoding":{"x":{"datum":11.98,"axis":null},"y":{"datum":146.7}}},
   {"data":{"values":[{}]},"mark":{"type":"text","text":"20-Dec","fontSize":22,"align":"center","baseline":"middle"},"encoding":{"x":{"datum":11.98,"axis":null},"y":{"datum":137.2}}},
   {"data":{"values":[{}]},"mark":{"type":"text","text":"2022","fontSize":16,"fontWeight":"bold","align":"center","baseline":"middle"},"encoding":{"x":{"datum":12.28,"axis":null},"y":{"datum":124.0}}},
   {"data":{"values":[{}]},"mark":{"type":"text","text":"Total 6.23 Hrs","fontSize":24,"align":"center","baseline":"middle"},"encoding":{"x":{"datum":12.28,"axis":null},"y":{"datum":115.2}}}
  ]}
],"spacing":0,"resolve":{"scale":{"color":"independent","strokeWidth":"independent","shape":"independent"},"legend":{"color":"independent","strokeWidth":"independent","shape":"independent"}}},
{"width":1,"height":70.5,"data":{"values":[]},"mark":"point","view":{"stroke":null,"fill":null}},
{"hconcat":[
 {"width":35,"height":1,"data":{"values":[]},"mark":"point","view":{"stroke":null,"fill":null}},
 {"width":912,"height":517,"view":{"fill":"white","stroke":"black","strokeWidth":1.5},
  "resolve":{"axis":{"x":"independent","y":"independent"}},
  "layer":[
   {"data":{"name":"wdir"},"mark":{"type":"point","filled":true,"color":"black","opacity":1,"shape":"M0,-1L0.8,0L0,1L-0.8,0Z","size":110},
    "encoding":{
     "x":{"field":"h","type":"quantitative","scale":{"domain":[-0.72,24.85],"range":[84,896],"nice":false,"zero":false},
      "axis":{"orient":"bottom","values":[0,1,2,3,4,5,6,7,8,9,10,11,12,13,14,15,16,17,18,19,20,21,22,23,24],"format":"d","grid":false,"offset":-64,"labelPadding":10,"title":"Time (GMT)","titlePadding":18}},
     "y":{"field":"d","type":"quantitative","scale":{"domain":[0,360],"range":[453,17],"nice":false,"zero":false},
      "axis":{"orient":"left","values":[0,10,20,30,40,50,60,70,80,90,100,110,120,130,140,150,160,170,180,190,200,210,220,230,240,250,260,270,280,290,300,310,320,330,340,350,360],"labelExpr":"datum.value % 30 == 0 ? datum.label : ''","grid":true,"gridWidth":1,"offset":-84,"labelPadding":12,"title":"Direction, degrees true","titlePadding":14}}}},
   {"data":{"values":[{}]},"mark":{"type":"rect","fillOpacity":0,"stroke":"black","strokeWidth":1},"encoding":{"x":{"datum":-0.72,"axis":{"orient":"top","values":[0,1,2,3,4,5,6,7,8,9,10,11,12,13,14,15,16,17,18,19,20,21,22,23,24],"grid":true,"gridWidth":1,"labels":false,"title":null}},"x2":{"datum":24.85},"y":{"datum":0,"axis":{"orient":"left","values":[30,60,90,120,150,180,210,240,270,300,330],"labels":false,"grid":true,"gridWidth":3,"title":null}},"y2":{"datum":360}}},
   {"data":{"values":[{}]},"mark":{"type":"rect","fill":"white","stroke":null},"encoding":{"x":{"datum":8.25,"axis":null},"x2":{"datum":17.01},"y":{"datum":331.9,"axis":null},"y2":{"datum":363.3}}},
   {"data":{"values":[{}]},"mark":{"type":"text","text":"Wokingham,  20 December 2022","fontSize":17,"align":"center","baseline":"middle"},"encoding":{"x":{"datum":12.6,"axis":null},"y":{"datum":360,"axis":null}}},
   {"data":{"values":[{}]},"mark":{"type":"text","text":"5 minute mean wind direction","fontSize":12,"align":"center","baseline":"middle"},"encoding":{"x":{"datum":12.6,"axis":null},"y":{"datum":344.3,"axis":null}}}
  ]}
],"spacing":0,"resolve":{"scale":{"color":"independent","strokeWidth":"independent","shape":"independent"},"legend":{"color":"independent","strokeWidth":"independent","shape":"independent"}}},
{"width":1,"height":8.5,"data":{"values":[]},"mark":"point","view":{"stroke":null,"fill":null}},
{"hconcat":[
 {"width":35,"height":1,"data":{"values":[]},"mark":"point","view":{"stroke":null,"fill":null}},
 {"width":912,"height":478,"view":{"fill":"white","stroke":"black","strokeWidth":1.5},
  "resolve":{"axis":{"x":"independent"}},
  "layer":[
   {"data":{"name":"wgust"},"mark":{"type":"line","color":"#555555","strokeWidth":1},
    "encoding":{
     "x":{"field":"h","type":"quantitative","scale":{"domain":[-0.7,25.3],"range":[59,907],"nice":false,"zero":false},
      "axis":{"orient":"bottom","values":[0,1,2,3,4,5,6,7,8,9,10,11,12,13,14,15,16,17,18,19,20,21,22,23],"labelExpr":"datum.value % 2 == 0 ? (datum.value < 10 ? '0' : '') + datum.value + ':00' : ['', (datum.value < 10 ? '0' : '') + datum.value + ':00']","labelLineHeight":15,"grid":false,"offset":-69,"labelPadding":9,"title":"Time (GMT)","titlePadding":3}},
     "y":{"field":"v","type":"quantitative","scale":{"domain":[0,50],"range":[409,41],"nice":false,"zero":false},
      "axis":{"values":[0,5,10,15,20,25,30,35,40,45,50],"labelExpr":"datum.value % 10 == 0 ? datum.label : ''","grid":true,"gridDash":[1,2],"offset":-59,"labelPadding":11,"title":"Speed (knots)","titlePadding":15}}}},
   {"data":{"name":"wmean"},"mark":{"type":"line","color":"black","strokeWidth":2},"encoding":{"x":{"field":"h","type":"quantitative","axis":null},"y":{"field":"v","type":"quantitative"}}},
   {"data":{"name":"wlow"},"mark":{"type":"point","filled":true,"fill":"#c8c8c8","stroke":"#333333","strokeWidth":1,"opacity":1,"size":70},
    "encoding":{"x":{"field":"h","type":"quantitative","axis":null},"y":{"field":"v","type":"quantitative"},
     "shape":{"datum":"Speed / 10","type":"nominal","scale":{"domain":["Speed x 1","Speed / 10"],"range":["stroke","diamond"]},
      "legend":{"title":null,"orient":"none","legendX":700,"legendY":5,"direction":"horizontal","fillColor":"white","strokeColor":"black","padding":6,"labelFontSize":12,"symbolSize":150,"columnPadding":40,"labelLimit":200,
       "encode":{"symbols":{"update":{"stroke":{"value":"black"},"fill":{"value":"#cccccc"},"strokeWidth":{"signal":"datum.value === 'Speed x 1' ? 3 : 1"}}}}}}}},
   {"data":{"values":[{}]},"mark":{"type":"rect","fillOpacity":0,"stroke":"black","strokeWidth":1},"encoding":{"x":{"datum":-0.7,"axis":{"orient":"top","values":[0,1,2,3,4,5,6,7,8,9,10,11,12,13,14,15,16,17,18,19,20,21,22,23],"grid":true,"gridDash":[1,2],"labels":false,"title":null}},"x2":{"datum":25.3},"y":{"datum":0},"y2":{"datum":50}}},
   {"data":{"values":[{}]},"mark":{"type":"rect","fill":"white","stroke":null},"encoding":{"x":{"datum":-0.21,"axis":null},"x2":{"datum":10.0},"y":{"datum":49.85},"y2":{"datum":50.4}}},
   {"data":{"values":[{}]},"mark":{"type":"text","text":"Wokingham,  20 December 2022","fontSize":17,"fontWeight":"bold","align":"center","baseline":"middle"},"encoding":{"x":{"datum":4.82,"axis":null},"y":{"datum":52.7}}},
   {"data":{"values":[{}]},"mark":{"type":"text","text":"Wind speed, 10 min mean / max gust","fontSize":13,"align":"center","baseline":"middle"},"encoding":{"x":{"datum":13.93,"axis":null},"y":{"datum":54.08}}},
   {"data":{"values":[{}]},"mark":{"type":"text","text":"Speeds below 4 kt shown at x10 scale","fontSize":13,"align":"center","baseline":"middle"},"encoding":{"x":{"datum":13.93,"axis":null},"y":{"datum":51.77}}}
  ]}
],"spacing":0,"resolve":{"scale":{"color":"independent","strokeWidth":"independent","shape":"independent"},"legend":{"color":"independent","strokeWidth":"independent","shape":"independent"}}},
{"width":1000,"height":280,"data":{"values":[]},"mark":"point","view":{"stroke":null,"fill":null}}
]
}
